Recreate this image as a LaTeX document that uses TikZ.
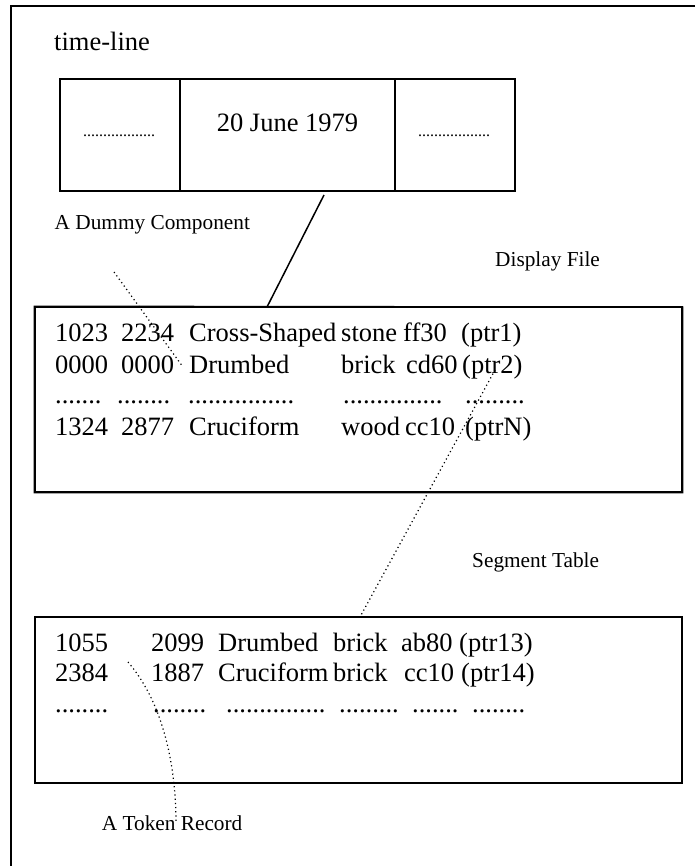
\documentclass[tikz,border=0pt]{standalone}
\usepackage{fontspec}
\setmainfont{Liberation Serif}
\begin{document}
\begin{tikzpicture}[x=1pt,y=-1pt,
  tl/.style={font=\fontsize{26.5}{30}\selectfont, inner sep=0pt},
  tab/.style={font=\fontsize{26.5}{30}\selectfont, inner sep=0pt, anchor=base west},
  lab/.style={font=\fontsize{21.3}{25}\selectfont, inner sep=0pt, anchor=base west},
  tiny/.style={font=\fontsize{16}{20}\selectfont, inner sep=0pt, anchor=base},
  cell/.style={draw, line width=1.8pt, minimum height=112pt, inner sep=0pt},
  tablebox/.style={draw, line width=1.8pt, inner sep=0pt},
  dotline/.style={line width=1.2pt, dash pattern=on 1.2pt off 3pt},
  solidline/.style={line width=1.5pt}]
\useasboundingbox[fill=white] (0,0) rectangle (695,866);
% outer frame (top and left edges visible)
\draw[line width=1.5pt] (695,6) -- (11,6) -- (11,866);
% time-line
\node[tl, anchor=base west] (tltitle) at (54,51) {time-line};
\node[cell, minimum width=120pt] (c1) at (120,135) {};
\node[cell, minimum width=215pt] (c2) at (287.5,135) {};
\node[cell, minimum width=120pt] (c3) at (455,135) {};
\node[tl, anchor=base] (date) at (287.5,131.7) {20 June 1979};
\node[tiny] (d1) at (119,137) {..................};
\node[tiny] (d3) at (454,137) {..................};
% labels
\node[lab] (dummy) at (54.5,230) {A Dummy Component};
\node[lab] (dfile) at (495,266.7) {Display File};
\node[lab] (stable) at (472,567) {Segment Table};
\node[lab] (token) at (101.7,830.7) {A Token Record};
% display file box
\node[draw, line width=1.1pt, minimum width=647pt, minimum height=185pt, inner sep=0pt] (disp) at (358.5,399.5) {};
\coordinate (dcut) at (475,307);
\draw[line width=1.8pt] (dcut) -- (disp.north west) -- (disp.south west) -- (disp.south east) -- (disp.north east);
% display rows
\node[tab] (a11) at (55,341.7) {1023};
\node[tab] (a12) at (121,341.7) {2234};
\node[tab] (a13) at (189,341.7) {Cross-Shaped};
\node[tab] (a14) at (341,341.7) {stone};
\node[tab] (a15) at (403,341.7) {ff30};
\node[tab] (a16) at (461,341.7) {(ptr1)};
\node[tab] (a21) at (55,373) {0000};
\node[tab] (a22) at (121,373) {0000};
\node[tab] (a23) at (189,373) {Drumbed};
\node[tab] (a24) at (341,373) {brick};
\node[tab] (a25) at (406,373) {cd60};
\node[tab] (a26) at (462,373) {(ptr2)};
\node[tab] (a31) at (55,403) {.......};
\node[tab] (a32) at (117,403) {........};
\node[tab] (a33) at (188,403) {................};
\node[tab] (a34) at (343,403) {...............};
\node[tab] (a35) at (465,403) {.........};
\node[tab] (a41) at (55,435.5) {1324};
\node[tab] (a42) at (121,435.5) {2877};
\node[tab] (a43) at (189,435.5) {Cruciform};
\node[tab] (a44) at (341,435.5) {wood};
\node[tab] (a45) at (405,435.5) {cc10};
\node[tab] (a46) at (465,435.5) {(ptrN)};
% segment table box
\node[tablebox, minimum width=647pt, minimum height=166pt] (seg) at (358.5,700) {};
\node[tab] (b11) at (55,651.7) {1055};
\node[tab] (b12) at (151,651.7) {2099};
\node[tab] (b13) at (218,651.7) {Drumbed};
\node[tab] (b14) at (333,651.7) {brick};
\node[tab] (b15) at (401,651.7) {ab80};
\node[tab] (b16) at (459,651.7) {(ptr13)};
\node[tab] (b21) at (55,681.7) {2384};
\node[tab] (b22) at (151,681.7) {1887};
\node[tab] (b23) at (218,681.7) {Cruciform};
\node[tab] (b24) at (333,681.7) {brick};
\node[tab] (b25) at (404,681.7) {cc10};
\node[tab] (b26) at (461,681.7) {(ptr14)};
\node[tab] (b31) at (55,712) {........};
\node[tab] (b32) at (153,712) {........};
\node[tab] (b33) at (226,712) {...............};
\node[tab] (b34) at (339,712) {.........};
\node[tab] (b35) at (412,712) {.......};
\node[tab] (b36) at (472,712) {........};
% connectors
\coordinate (tlc) at (324,195);
\coordinate (dpc) at (267,307);
\draw[solidline] (tlc) -- (dpc);
\coordinate (dumA) at (114,272);
\coordinate (dumB) at (183,367);
\draw[dotline] (dumA) -- (dumB);
\coordinate (ptrA) at (495,370);
\coordinate (segT) at (360,617);
\draw[dotline] (ptrA) -- (segT);
\coordinate (tokA) at (128,662);
\coordinate (tokB) at (176,823);
\draw[dotline] (tokA) .. controls (165,705) and (176,770) .. (tokB);
\end{tikzpicture}
\end{document}
